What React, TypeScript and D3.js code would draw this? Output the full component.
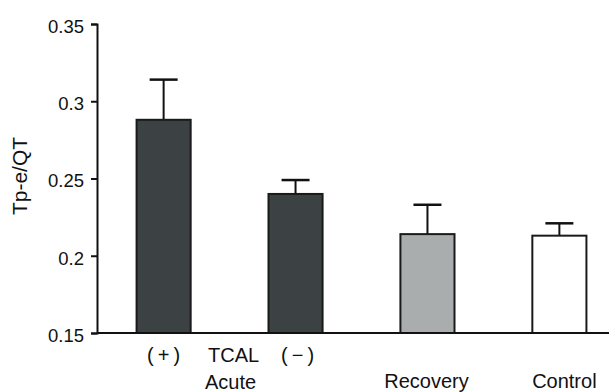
import React, { useEffect, useRef } from 'react';
import * as d3 from 'd3';

// groups along the x axis
const groups = ['acutePlus', 'acuteMinus', 'recovery', 'control'];
const means = [0.288, 0.240, 0.214, 0.213];
const errors = [0.026, 0.009, 0.019, 0.008];
const fills = ['#3c4244', '#3c4244', '#a9adae', '#ffffff'];
const yTicks = [0.15, 0.2, 0.25, 0.3, 0.35];

const W = 609;
const H = 392;
const margin = { top: 24, right: 0, bottom: 59, left: 97 };

function App() {
    const ref = useRef<SVGSVGElement>(null);

    useEffect(() => {
        const svg = d3.select(ref.current);
        svg.selectAll('*').remove();

        const x = d3.scaleBand()
            .domain(groups)
            .range([margin.left, 626])
            .paddingInner(0.59)
            .paddingOuter(0.3);

        const y = d3.scaleLinear()
            .domain([0.15, 0.35])
            .range([H - margin.bottom, margin.top]);

        const font = 'Liberation Sans, Arial, sans-serif';

        // error bars (drawn first, bars cover the lower end)
        const eb = svg.append('g')
            .selectAll('g')
            .data(groups)
            .enter().append('g');
        eb.append('line')
            .attr('x1', d => x(d)! + x.bandwidth() / 2)
            .attr('x2', d => x(d)! + x.bandwidth() / 2)
            .attr('y1', (d, i) => y(means[i]))
            .attr('y2', (d, i) => y(means[i] + errors[i]))
            .attr('stroke', '#111')
            .attr('stroke-width', 2);
        eb.append('line')
            .attr('x1', d => x(d)! + x.bandwidth() / 2 - 14)
            .attr('x2', d => x(d)! + x.bandwidth() / 2 + 14)
            .attr('y1', (d, i) => y(means[i] + errors[i]))
            .attr('y2', (d, i) => y(means[i] + errors[i]))
            .attr('stroke', '#111')
            .attr('stroke-width', 2.5);

        svg.append('g')
            .selectAll('rect')
            .data(groups)
            .enter().append('rect')
            .attr('x', d => x(d)!)
            .attr('width', x.bandwidth())
            .attr('y', (d, i) => y(means[i]))
            .attr('height', (d, i) => y(0.15) - y(means[i]))
            .attr('fill', (d, i) => fills[i])
            .attr('stroke', '#1a1a1a')
            .attr('stroke-width', 2);

        // y axis
        const ax = svg.append('g')
            .attr('transform', 'translate(' + margin.left + ',0)')
            .call(d3.axisLeft(y).tickValues(yTicks).tickSize(6).tickPadding(7)
                .tickFormat(d => String(+d)));
        ax.attr('font-size', null).attr('font-family', null);
        ax.select('.domain').attr('stroke', '#111').attr('stroke-width', 2);
        ax.selectAll('.tick line').attr('stroke', '#111').attr('stroke-width', 2);
        ax.selectAll('.tick text')
            .attr('font-family', font)
            .style('font-size', '18.5px')
            .attr('dy', '0.45em')
            .attr('fill', '#111');

        // x baseline
        svg.append('line')
            .attr('x1', margin.left)
            .attr('x2', W)
            .attr('y1', y(0.15))
            .attr('y2', y(0.15))
            .attr('stroke', '#111')
            .attr('stroke-width', 2);

        // category labels
        const lbl = (t: string, cx: number, cy: number) => svg.append('text')
            .attr('x', cx).attr('y', cy)
            .attr('text-anchor', 'middle')
            .attr('font-family', font)
            .style('font-size', '20px')
            .attr('fill', '#111')
            .text(t);
        const cx = (g: string) => x(g)! + x.bandwidth() / 2;
        const mid = (cx('acutePlus') + cx('acuteMinus')) / 2;
        lbl('(\u2009+\u2009)', cx('acutePlus'), 362);
        lbl('TCAL', mid + 4, 362);
        lbl('(\u2009\u2212\u2009)', cx('acuteMinus') + 2, 362);
        lbl('Acute', mid + 1, 389);
        lbl('Recovery', cx('recovery') - 1, 388);
        lbl('Control', cx('control') + 5, 388);

        svg.append('text')
            .attr('transform', 'translate(27,176) rotate(-90)')
            .attr('text-anchor', 'middle')
            .attr('font-family', font)
            .style('font-size', '21px')
            .attr('fill', '#111')
            .text('Tp-e/QT');
    }, []);

    return (
        <svg ref={ref} width={W} height={H}
            style={{ position: 'absolute', left: 0, top: 0, background: '#fff' }} />
    );
}

export default App;
